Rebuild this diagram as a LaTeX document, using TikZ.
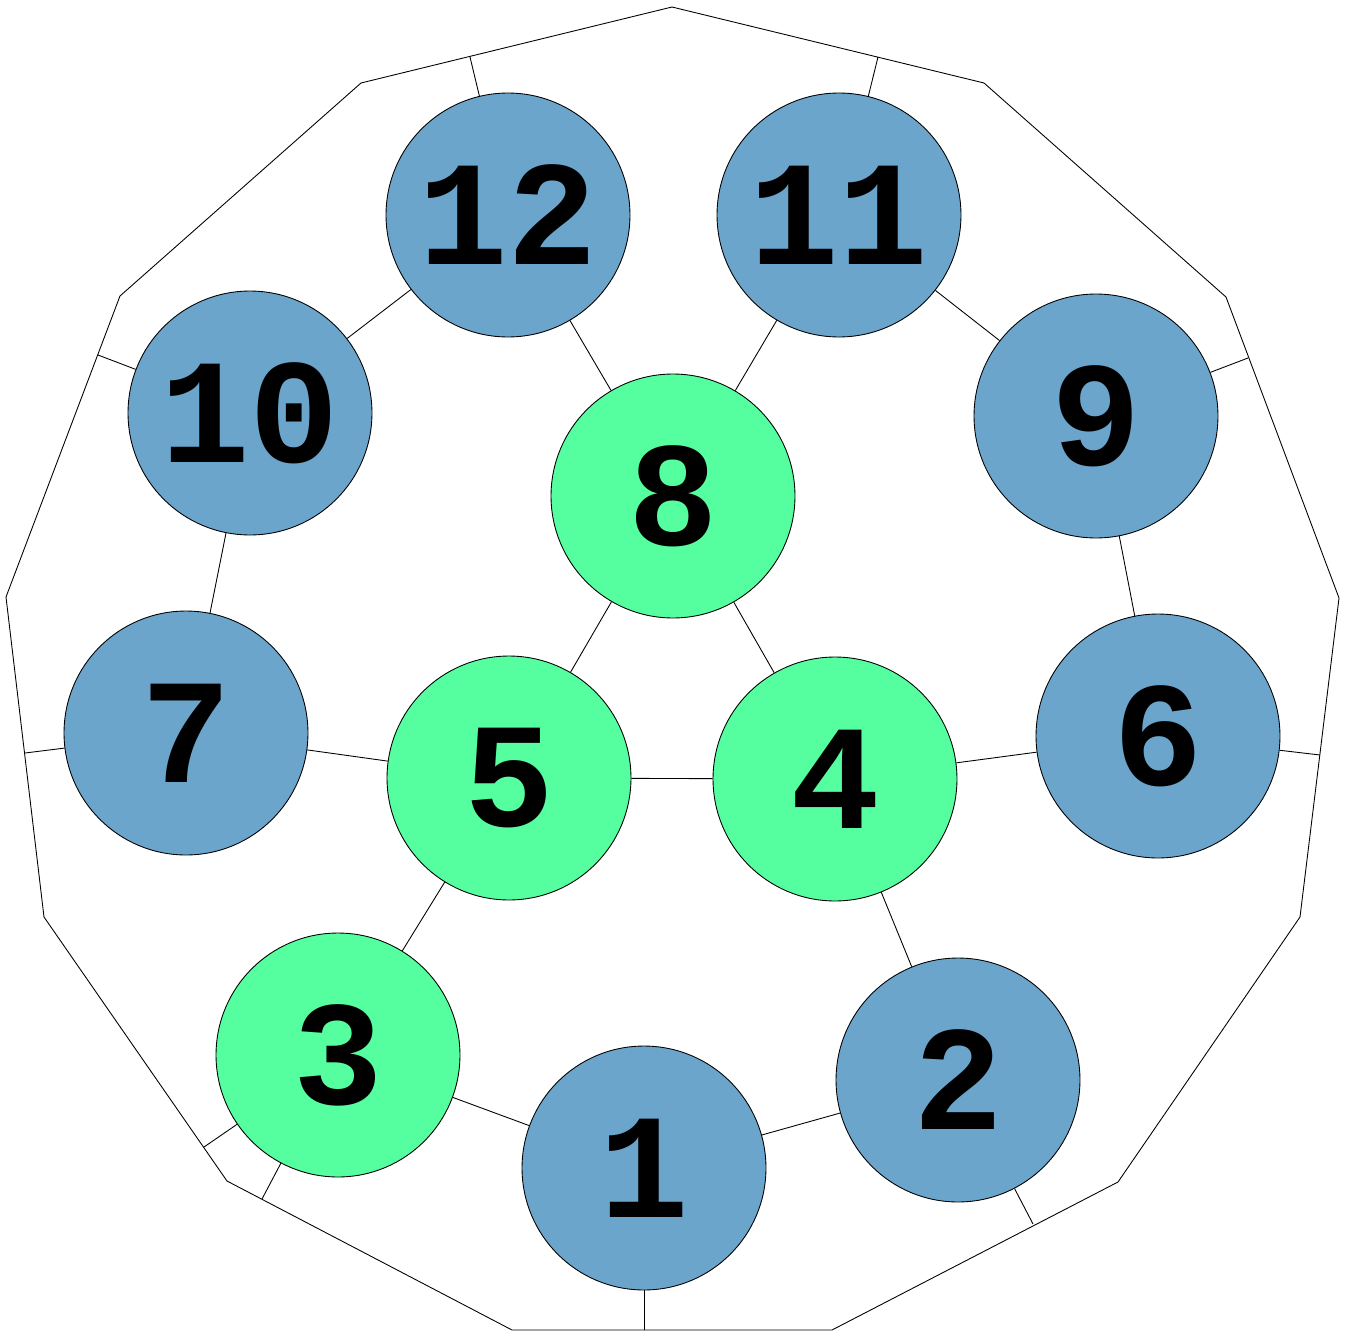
\documentclass[tikz,border=0pt]{standalone}
\usepackage{fontspec}
\newfontfamily\numfont{Liberation Mono}[BoldFont={Liberation Mono Bold}]
\definecolor{bluefill}{RGB}{107,165,203}
\definecolor{greenfill}{RGB}{85,255,159}
\begin{document}
\begin{tikzpicture}[x=0.02cm,y=-0.02cm,
  ball/.style={circle,draw=black,line width=0.5pt,minimum size=4.88cm,inner sep=0pt,
    font=\numfont\bfseries\fontsize{85}{85}\selectfont},
  blueball/.style={ball,fill=bluefill},
  greenball/.style={ball,fill=greenfill},
  link/.style={line width=0.5pt,draw=black}]
\useasboundingbox (0,0) rectangle (1346,1332);
% polygon vertices
\coordinate (v1) at (672,7);
\coordinate (v2) at (984,83);
\coordinate (v3) at (1226,297);
\coordinate (v4) at (1339,598);
\coordinate (v5) at (1300,917);
\coordinate (v6) at (1118,1182);
\coordinate (v7) at (832,1330);
\coordinate (v8) at (512,1330);
\coordinate (v9) at (227,1181);
\coordinate (v10) at (44,917);
\coordinate (v11) at (6,597);
\coordinate (v12) at (120,296);
\coordinate (v13) at (361,83);
% boundary attachment points
\coordinate (b12) at (470,57);
\coordinate (b11) at (878,57);
\coordinate (b9) at (1248,358);
\coordinate (b6) at (1320,755);
\coordinate (b2) at (1033,1224);
\coordinate (b1) at (644,1330);
\coordinate (b3a) at (262,1199);
\coordinate (b3b) at (204,1147);
\coordinate (b7) at (25,753);
\coordinate (b10) at (98,355);
\draw[link] (v1) -- (v2) -- (v3) -- (v4) -- (v5) -- (v6) -- (v7) -- (v8) -- (v9) -- (v10) -- (v11) -- (v12) -- (v13) -- cycle;
% nodes
\node[blueball]  (n12) at (508,215) {12};
\node[blueball]  (n11) at (839,215) {11};
\node[blueball]  (n10) at (250,413) {10};
\node[blueball]  (n9)  at (1096,416) {9};
\node[greenball] (n8)  at (673,496) {8};
\node[blueball]  (n7)  at (186,733) {7};
\node[greenball] (n5)  at (509,778) {5};
\node[greenball] (n4)  at (835,779) {4};
\node[blueball]  (n6)  at (1158,736) {6};
\node[greenball] (n3)  at (338,1055) {3};
\node[blueball]  (n1)  at (644,1168) {1};
\node[blueball]  (n2)  at (958,1080) {2};
% connectors
\draw[link] (n12) -- (n10);
\draw[link] (n12) -- (n8);
\draw[link] (n11) -- (n8);
\draw[link] (n11) -- (n9);
\draw[link] (n10) -- (n7);
\draw[link] (n9) -- (n6);
\draw[link] (n8) -- (n5);
\draw[link] (n8) -- (n4);
\draw[link] (n5) -- (n4);
\draw[link] (n7) -- (n5);
\draw[link] (n4) -- (n6);
\draw[link] (n5) -- (n3);
\draw[link] (n4) -- (n2);
\draw[link] (n3) -- (n1);
\draw[link] (n1) -- (n2);
% to boundary
\draw[link] (n12) -- (b12);
\draw[link] (n11) -- (b11);
\draw[link] (n9) -- (b9);
\draw[link] (n6) -- (b6);
\draw[link] (n2) -- (b2);
\draw[link] (n1) -- (b1);
\draw[link] (n3) -- (b3a);
\draw[link] (n3) -- (b3b);
\draw[link] (n7) -- (b7);
\draw[link] (n10) -- (b10);
\end{tikzpicture}
\end{document}
